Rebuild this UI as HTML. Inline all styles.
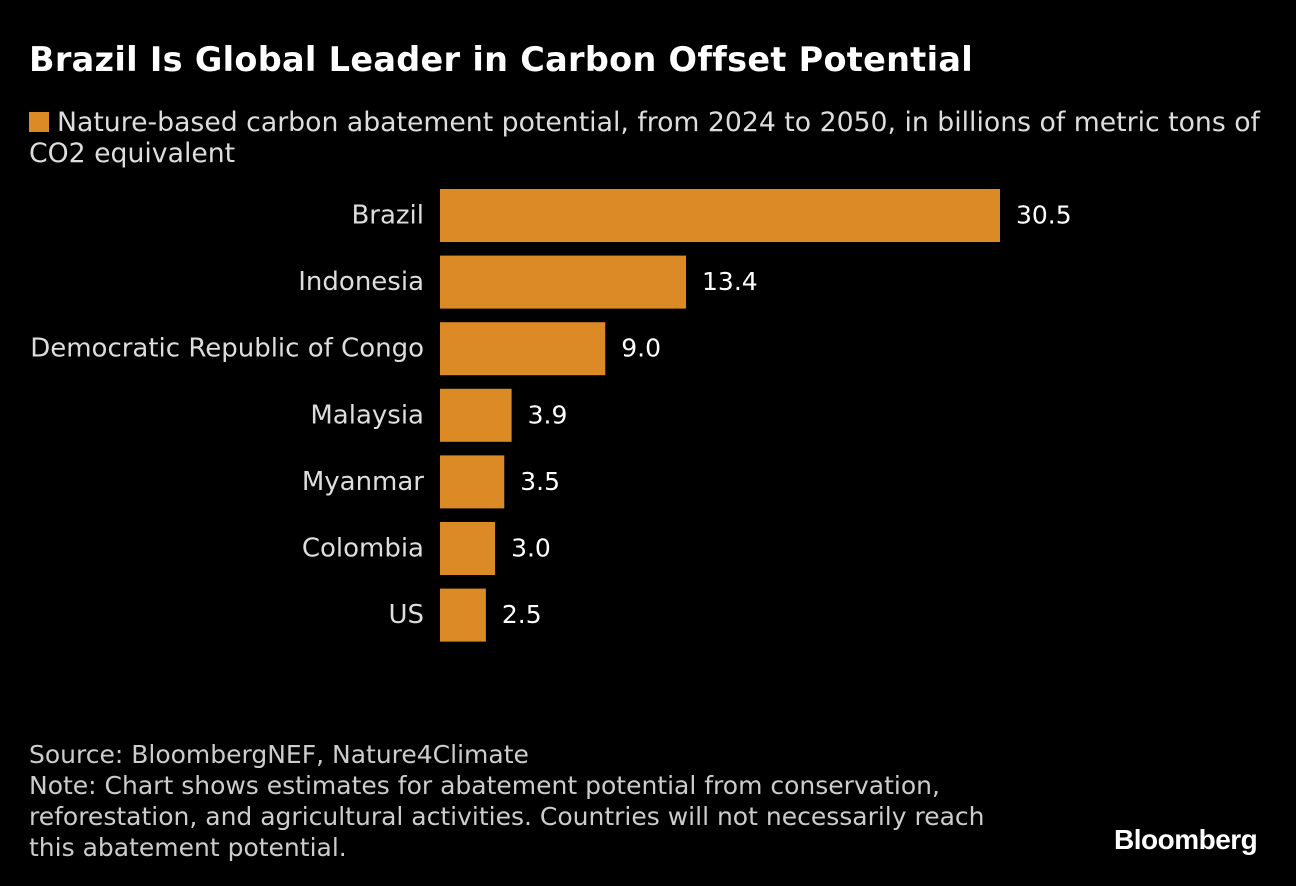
<!DOCTYPE html>
<html><head><meta charset="utf-8"><style>
body{margin:0;background:#000;width:1296px;height:886px;overflow:hidden;font-family:"DejaVu Sans","Liberation Sans",sans-serif;color:#fff;position:relative}
.t{position:absolute;white-space:nowrap}
</style></head><body>
<div class="t" style="left:29px;top:40px;font-size:33.5px;font-weight:bold;letter-spacing:0.3px">Brazil Is Global Leader in Carbon Offset Potential</div>
<div class="t" style="left:29px;top:107px;font-size:26.7px;line-height:31px;color:#ddd"><span style="display:inline-block;width:20px;height:20px;background:#dc8a25;margin-right:8px;vertical-align:-1px"></span>Nature-based carbon abatement potential, from 2024 to 2050, in billions of metric tons of<br>CO2 equivalent</div>
<svg id="chart" width="1296" height="886" style="position:absolute;left:0;top:0"></svg>
<div class="t" style="left:29px;top:739px;font-size:25px;line-height:31px;color:#ccc">Source: BloombergNEF, Nature4Climate<br>Note: Chart shows estimates for abatement potential from conservation,<br>reforestation, and agricultural activities. Countries will not necessarily reach<br>this abatement potential.</div>
<div class="t" style="left:1114px;top:824px;font-size:28px;font-weight:bold;letter-spacing:-0.5px;font-family:'Liberation Sans',sans-serif">Bloomberg</div>
<script>
const categories=["Brazil","Indonesia","Democratic Republic of Congo","Malaysia","Myanmar","Colombia","US"];
const values=[30.5,13.4,9.0,3.9,3.5,3.0,2.5];
const valueLabels=["30.5","13.4","9.0","3.9","3.5","3.0","2.5"];
const svg=document.getElementById('chart');
const NS="http://www.w3.org/2000/svg";
const x0=440,scale=560/30.5,y0=189,step=66.6,bh=53;
const xs=v=>x0+v*scale, ys=i=>y0+i*step;
categories.forEach((c,i)=>{
 const r=document.createElementNS(NS,'rect');
 r.setAttribute('x',x0);r.setAttribute('y',ys(i));r.setAttribute('width',xs(values[i])-x0);r.setAttribute('height',bh);r.setAttribute('fill','#dc8a25');
 
 
 svg.appendChild(r);
 const l=document.createElementNS(NS,'text');
 l.setAttribute('x',424);l.setAttribute('y',ys(i)+bh/2+8);l.setAttribute('text-anchor','end');l.setAttribute('fill','#ddd');l.setAttribute('font-size','26');l.textContent=c;
 
 
 svg.appendChild(l);
 const v=document.createElementNS(NS,'text');
 v.setAttribute('x',xs(values[i])+16);v.setAttribute('y',ys(i)+bh/2+8);v.setAttribute('fill','#fff');v.setAttribute('font-size','25');v.textContent=valueLabels[i];
 
 
 svg.appendChild(v);
});
</script>
</body></html>
